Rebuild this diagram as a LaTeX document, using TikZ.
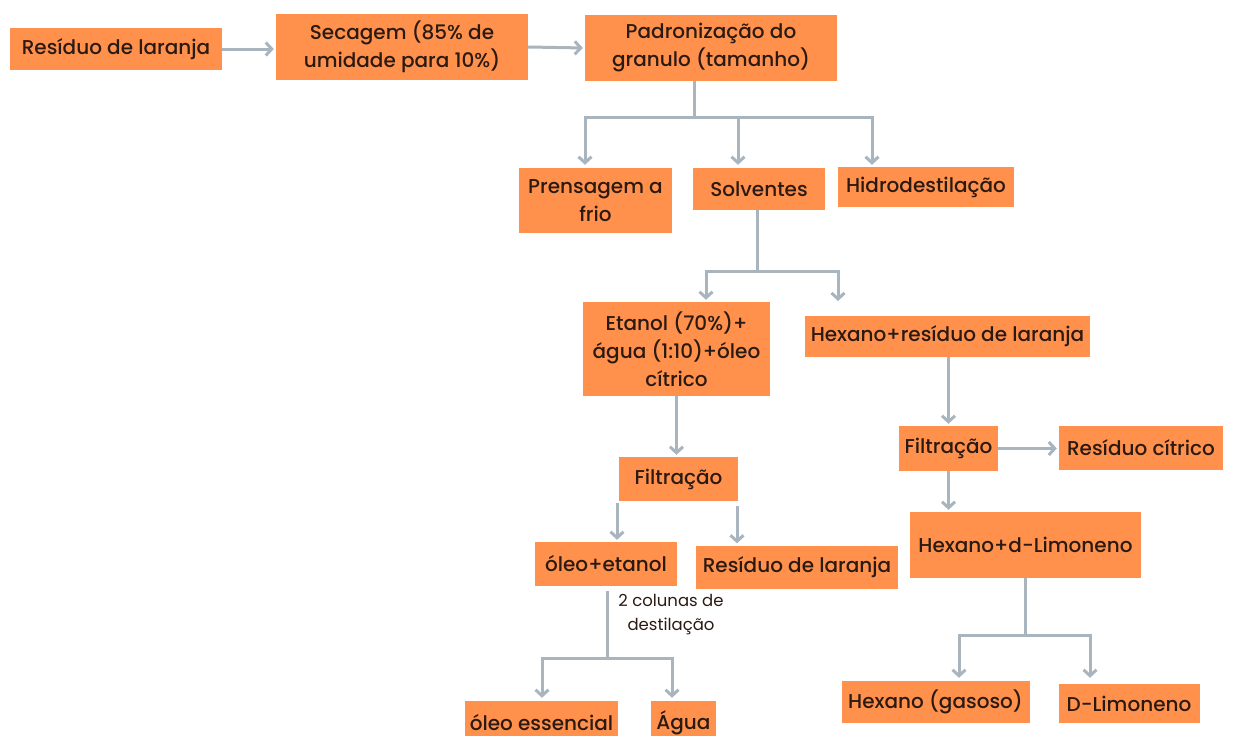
\documentclass[tikz,border=0pt]{standalone}
\usepackage{fontspec}
\setmainfont{Poppins}
\newfontfamily\medio{Poppins Medium}
\usetikzlibrary{arrows.meta}
\definecolor{laranja}{HTML}{FF914D}
\definecolor{cinza}{HTML}{A9B5BE}
\definecolor{texto}{HTML}{2B1A12}

\begin{document}
\begin{tikzpicture}[x=1pt, y=-1pt,
  caixa/.style={fill=laranja, text=texto, align=center, inner sep=0pt, font=\medio\fontsize{20}{28}\selectfont},
  linha/.style={draw=cinza, line width=3pt},
  seta/.style={linha, shorten >=2pt, -{Straight Barb[length=6pt,width=13pt]}}]
  \useasboundingbox (0,0) rectangle (1235,736);
  \clip (0,0) rectangle (1235,736);

  % caixas
  \node[caixa, minimum width=212, minimum height=42] (resid) at (116,49) {Resíduo de laranja};
  \node[caixa, minimum width=252, minimum height=66] (secag) at (402,47) {Secagem (85\% de\\umidade para 10\%)};
  \node[caixa, minimum width=252, minimum height=66] (padron) at (711,48) {Padronização do\\granulo (tamanho)};
  \node[caixa, minimum width=153, minimum height=65] (prensa) at (595.5,200.5) {Prensagem a\\frio};
  \node[caixa, minimum width=132, minimum height=42] (solv) at (759,189) {Solventes};
  \node[caixa, minimum width=176, minimum height=40] (hidro) at (926,187) {Hidrodestilação};
  \node[caixa, minimum width=187, minimum height=94] (etanol) at (676.5,349) {Etanol (70\%)+\\água (1:10)+óleo\\cítrico};
  \node[caixa, minimum width=285, minimum height=41] (hexres) at (947.5,336.5) {Hexano+resíduo de laranja};
  \node[caixa, minimum width=119, minimum height=44] (filtA) at (678.5,479) {Filtração};
  \node[caixa, minimum width=99, minimum height=45] (filtB) at (948.5,448.5) {Filtração};
  \node[caixa, minimum width=164, minimum height=44] (rescit) at (1141,448) {Resíduo cítrico};
  \node[caixa, minimum width=231, minimum height=66] (hexlim) at (1025.5,545) {Hexano+d-Limoneno};
  \node[caixa, minimum width=142, minimum height=44] (oleoet) at (606,564) {óleo+etanol};
  \node[caixa, minimum width=202, minimum height=43] (reslar) at (797,567) {Resíduo de laranja};
  \node[caixa, minimum width=188, minimum height=42] (hexgas) at (935.5,702) {Hexano (gasoso)};
  \node[caixa, minimum width=141, minimum height=39] (dlim) at (1129,703.5) {D-Limoneno};
  \node[caixa, minimum width=153, minimum height=44] (oleoes) at (541.5,723) {óleo essencial};
  \node[caixa, minimum width=65, minimum height=44] (agua) at (683.5,723) {Água};
  \node[font=\fontsize{16.5}{24}\selectfont, align=center, text=texto] (colunas) at (671,615) {2 colunas de\\destilação};

  % ligacoes
  \coordinate (j1) at (694,117);
  \coordinate (j2) at (757,271);
  \coordinate (j3) at (1025,635);
  \coordinate (j4) at (607,658);
  \coordinate (t2) at (838,303);
  \draw[seta] (resid.east) -- (resid.east -| secag.west);
  \draw[seta] (secag.east) -- (padron.west);
  \draw[linha] (padron.south -| j1) -- (j1);
  \draw[seta] (j1) -| ([xshift=-10.5pt,yshift=1pt]prensa.north);
  \draw[seta] (j1) -| ([xshift=-21pt,yshift=1pt]solv.north);
  \draw[seta] (j1) -| ([xshift=-54pt]hidro.north);
  \draw[linha] (solv.south -| j2) -- (j2);
  \draw[seta] (j2) -| ([xshift=29.5pt]etanol.north);
  \draw[seta] (j2) -| (t2);
  \draw[seta] (etanol.south) -- (etanol.south |- filtA.north);
  \draw[seta] (hexres.south -| filtB.north) -- (filtB.north);
  \draw[seta] (filtB.east) -- (filtB.east -| rescit.west);
  \draw[seta] (filtB.south) -- (filtB.south |- hexlim.north);
  \draw[seta] ([xshift=-61.5pt,yshift=-2pt]filtA.south) -- ([xshift=-61.5pt]filtA.south |- oleoet.north);
  \draw[seta] ([xshift=58.5pt,yshift=-5pt]filtA.south) -- ([xshift=58.5pt]filtA.south |- reslar.north);
  \draw[linha] (hexlim.south -| j3) -- (j3);
  \draw[seta] (j3) -| ([xshift=23.5pt,yshift=1pt]hexgas.north);
  \draw[seta] (j3) -| ([xshift=-39pt,yshift=4pt]dlim.north);
  \draw[linha] ([yshift=-5pt]oleoet.south -| j4) -- (j4);
  \draw[seta] (j4) -| ([xshift=0.5pt,yshift=1pt]oleoes.north);
  \draw[seta] (j4) -| ([xshift=-11.5pt,yshift=1pt]agua.north);
\end{tikzpicture}
\end{document}
